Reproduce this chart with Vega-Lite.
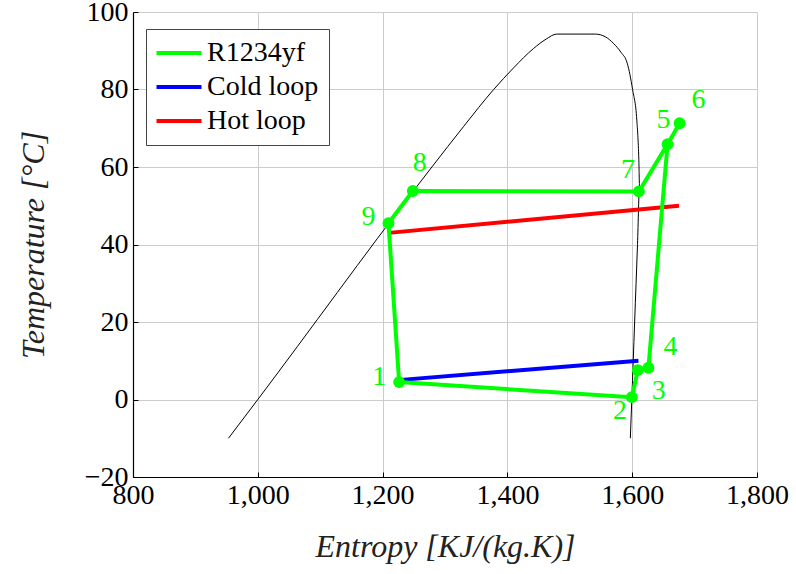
{
  "$schema": "https://vega.github.io/schema/vega-lite/v6.json",
  "width": 624,
  "height": 465,
  "autosize": "none",
  "padding": {"left": 133, "top": 12, "right": 39, "bottom": 97},
  "background": "white",
  "config": {
    "view": {"stroke": null},
    "font": "'Liberation Serif', 'DejaVu Serif', serif",
    "axis": {
      "labelFont": "'Liberation Serif', 'DejaVu Serif', serif",
      "labelFontSize": 28,
      "labelColor": "black",
      "titleFont": "'Liberation Serif', 'DejaVu Serif', serif",
      "titleFontStyle": "italic",
      "titleFontWeight": "normal",
      "titleFontSize": 32,
      "titleColor": "#222",
      "gridColor": "#cccccc",
      "gridWidth": 1,
      "domainColor": "black",
      "domainWidth": 1.2,
      "tickColor": "black",
      "tickSize": -5,
      "tickWidth": 1
    }
  },
  "datasets": {
    "dome": [
      {"k": 1, "s": 953, "T": -10},
      {"k": 2, "s": 1000, "T": 0},
      {"k": 3, "s": 1255, "T": 55},
      {"k": 4, "s": 1279, "T": 60},
      {"k": 5, "s": 1330, "T": 70.5},
      {"k": 6, "s": 1378, "T": 80},
      {"k": 7, "s": 1410, "T": 85.6},
      {"k": 8, "s": 1442, "T": 90.6},
      {"k": 9, "s": 1462, "T": 93},
      {"k": 10, "s": 1479, "T": 94.3},
      {"k": 11, "s": 1541, "T": 94.3},
      {"k": 12, "s": 1557, "T": 93.6},
      {"k": 13, "s": 1570, "T": 91.9},
      {"k": 14, "s": 1582, "T": 89.6},
      {"k": 15, "s": 1592, "T": 86.8},
      {"k": 16, "s": 1600.6, "T": 80},
      {"k": 17, "s": 1607.4, "T": 72.1},
      {"k": 18, "s": 1610.6, "T": 62},
      {"k": 19, "s": 1611.8, "T": 54.9},
      {"k": 20, "s": 1608.5, "T": 40},
      {"k": 21, "s": 1603.9, "T": 20},
      {"k": 22, "s": 1599.4, "T": 0},
      {"k": 23, "s": 1597, "T": -10}
    ],
    "cycle": [
      {"k": 1, "s": 1226.5, "T": 4.5, "series": "R1234yf"},
      {"k": 2, "s": 1599.5, "T": 0.6, "series": "R1234yf"},
      {"k": 3, "s": 1609, "T": 7.6, "series": "R1234yf"},
      {"k": 4, "s": 1626, "T": 8.2, "series": "R1234yf"},
      {"k": 5, "s": 1656.7, "T": 65.9, "series": "R1234yf"},
      {"k": 6, "s": 1676, "T": 71.3, "series": "R1234yf"},
      {"k": 7, "s": 1656.7, "T": 65.9, "series": "R1234yf"},
      {"k": 8, "s": 1610.8, "T": 53.7, "series": "R1234yf"},
      {"k": 9, "s": 1248.4, "T": 53.8, "series": "R1234yf"},
      {"k": 10, "s": 1209.4, "T": 45.5, "series": "R1234yf"},
      {"k": 11, "s": 1226.5, "T": 4.5, "series": "R1234yf"}
    ],
    "loops": [
      {"k": 1, "s": 1225, "T": 5, "series": "Cold loop"},
      {"k": 2, "s": 1610, "T": 10, "series": "Cold loop"},
      {"k": 1, "s": 1210, "T": 43, "series": "Hot loop"},
      {"k": 2, "s": 1675, "T": 50, "series": "Hot loop"}
    ],
    "pts": [
      {"n": "1", "s": 1226.5, "T": 4.5},
      {"n": "2", "s": 1599.5, "T": 0.6},
      {"n": "3", "s": 1609, "T": 7.6},
      {"n": "4", "s": 1626, "T": 8.2},
      {"n": "5", "s": 1656.7, "T": 65.9},
      {"n": "6", "s": 1676, "T": 71.3},
      {"n": "7", "s": 1610.8, "T": 53.7},
      {"n": "8", "s": 1248.4, "T": 53.8},
      {"n": "9", "s": 1209.4, "T": 45.5}
    ]
  },
  "encoding": {
    "x": {
      "field": "s", "type": "quantitative",
      "scale": {"domain": [800, 1800], "nice": false, "zero": false},
      "axis": {
        "values": [800, 1000, 1200, 1400, 1600, 1800],
        "format": ",d",
        "title": "Entropy [KJ/(kg.K)]",
        "labelPadding": 9,
        "titlePadding": 22,
        "labelFlush": false
      }
    },
    "y": {
      "field": "T", "type": "quantitative",
      "scale": {"domain": [-20, 100], "nice": false, "zero": false},
      "axis": {
        "values": [-20, 0, 20, 40, 60, 80, 100],
        "format": "d",
        "title": "Temperature [°C]",
        "labelPadding": 10,
        "titlePadding": 34,
        "labelFlush": false
      }
    }
  },
  "layer": [
    {
      "data": {"name": "dome"},
      "mark": {"type": "line", "color": "black", "strokeWidth": 1, "interpolate": "monotone"},
      "encoding": {"order": {"field": "k", "type": "quantitative"}}
    },
    {
      "data": {"name": "loops"},
      "mark": {"type": "line", "strokeWidth": 4},
      "encoding": {
        "order": {"field": "k", "type": "quantitative"},
        "color": {"field": "series", "type": "nominal",
          "scale": {"domain": ["R1234yf", "Cold loop", "Hot loop"], "range": ["#00ff00", "#0000ff", "#ff0000"]},
          "legend": {
            "title": null,
            "orient": "none",
            "legendX": 13,
            "legendY": 17,
            "symbolType": "M-2,0H2",
            "symbolSize": 506,
            "symbolStrokeWidth": 4,
            "symbolOffset": 9,
            "labelFont": "'Liberation Serif', 'DejaVu Serif', serif",
            "labelFontSize": 28,
            "labelColor": "black",
            "labelOffset": 14,
            "rowPadding": 6,
            "padding": 10,
            "fillColor": "white",
            "strokeColor": "#444"
          }
        }
      }
    },
    {
      "data": {"name": "cycle"},
      "mark": {"type": "line", "strokeWidth": 4, "strokeJoin": "round"},
      "encoding": {
        "order": {"field": "k", "type": "quantitative"},
        "color": {"field": "series", "type": "nominal"}
      }
    },
    {
      "data": {"name": "pts"},
      "mark": {"type": "circle", "color": "#00ff00", "opacity": 1, "size": 140},
      "encoding": {}
    },
    {"data": {"name": "pts"}, "transform": [{"filter": "datum.n == '1'"}], "mark": {"type": "text", "color": "#00ff00", "fontSize": 28, "dx": -20, "dy": -5}, "encoding": {"text": {"field": "n", "type": "nominal"}}},
    {"data": {"name": "pts"}, "transform": [{"filter": "datum.n == '2'"}], "mark": {"type": "text", "color": "#00ff00", "fontSize": 28, "dx": -12, "dy": 14}, "encoding": {"text": {"field": "n", "type": "nominal"}}},
    {"data": {"name": "pts"}, "transform": [{"filter": "datum.n == '3'"}], "mark": {"type": "text", "color": "#00ff00", "fontSize": 28, "dx": 21, "dy": 21}, "encoding": {"text": {"field": "n", "type": "nominal"}}},
    {"data": {"name": "pts"}, "transform": [{"filter": "datum.n == '4'"}], "mark": {"type": "text", "color": "#00ff00", "fontSize": 28, "dx": 22, "dy": -21}, "encoding": {"text": {"field": "n", "type": "nominal"}}},
    {"data": {"name": "pts"}, "transform": [{"filter": "datum.n == '5'"}], "mark": {"type": "text", "color": "#00ff00", "fontSize": 28, "dx": -4, "dy": -24}, "encoding": {"text": {"field": "n", "type": "nominal"}}},
    {"data": {"name": "pts"}, "transform": [{"filter": "datum.n == '6'"}], "mark": {"type": "text", "color": "#00ff00", "fontSize": 28, "dx": 19, "dy": -23}, "encoding": {"text": {"field": "n", "type": "nominal"}}},
    {"data": {"name": "pts"}, "transform": [{"filter": "datum.n == '7'"}], "mark": {"type": "text", "color": "#00ff00", "fontSize": 28, "dx": -11, "dy": -21}, "encoding": {"text": {"field": "n", "type": "nominal"}}},
    {"data": {"name": "pts"}, "transform": [{"filter": "datum.n == '8'"}], "mark": {"type": "text", "color": "#00ff00", "fontSize": 28, "dx": 7, "dy": -28}, "encoding": {"text": {"field": "n", "type": "nominal"}}},
    {"data": {"name": "pts"}, "transform": [{"filter": "datum.n == '9'"}], "mark": {"type": "text", "color": "#00ff00", "fontSize": 28, "dx": -20, "dy": -6}, "encoding": {"text": {"field": "n", "type": "nominal"}}}
  ]
}
